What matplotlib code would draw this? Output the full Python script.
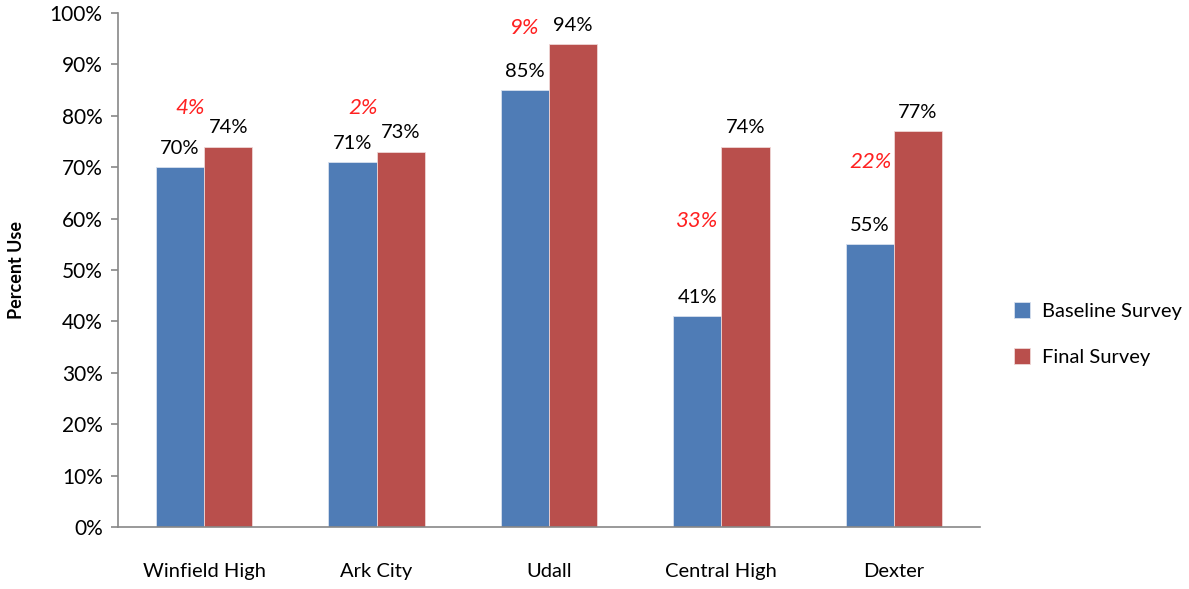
import matplotlib
matplotlib.use("Agg")
import matplotlib.pyplot as plt
import numpy as np

categories = ["Winfield High", "Ark City", "Udall", "Central High", "Dexter"]
baseline = [70, 71, 85, 41, 55]
final = [74, 73, 94, 74, 77]
series_names = ["Baseline Survey", "Final Survey"]
# y positions (in % units) where the red change labels sit
diff_label_y = [81.5, 81.5, 97.0, 59.5, 71.0]
diff_label_dx = [-0.08, -0.08, -0.14, -0.14, -0.135]

plt.rcParams['font.family'] = ['Lato', 'DejaVu Sans']

fig = plt.figure(figsize=(11.89, 5.89), dpi=100)
ax = fig.add_axes([118/1189, 1-527/589, (980-118)/1189, (527-13)/589])

blue = "#4F7CB6"
red = "#B94F4C"
w = 0.28
x = np.arange(len(categories))
ax.bar(x - w/2, baseline, w, color=blue, edgecolor="#d8e0ee", linewidth=0.6, label=series_names[0])
ax.bar(x + w/2, final, w, color=red, edgecolor="#efd6d6", linewidth=0.6, label=series_names[1])

for i in range(len(categories)):
    ax.text(x[i] - w/2, baseline[i] + 2.0, f"{baseline[i]}%", ha="center", va="bottom", fontsize=14.5)
    ax.text(x[i] + w/2, final[i] + 2.0, f"{final[i]}%", ha="center", va="bottom", fontsize=14.5)
    d = final[i] - baseline[i]
    ax.text(x[i] + diff_label_dx[i], diff_label_y[i], f"{d}%", ha="center", va="center",
            fontsize=16, color="#FF2020", style="italic")

ax.set_xlim(-0.5, len(categories) - 0.5)
ax.set_ylim(0, 100)
ax.set_yticks(np.arange(0, 101, 10))
ax.set_yticklabels([f"{v}%" for v in range(0, 101, 10)], fontsize=15)
ax.set_xticks(x)
ax.set_xticklabels(categories, fontsize=14.5)
ax.tick_params(axis="x", length=0, pad=26)
ax.tick_params(axis="y", length=5, color="#888888", width=1.2, pad=6)
for s in ["top", "right"]:
    ax.spines[s].set_visible(False)
for s in ["left", "bottom"]:
    ax.spines[s].set_color("#888888")
    ax.spines[s].set_linewidth(1.2)
ax.set_ylabel("Percent Use", fontsize=13, fontweight="bold", labelpad=18)

leg = fig.legend(loc="center left", bbox_to_anchor=(996/1189, 1-334/589), frameon=False,
                 fontsize=14.5, handlelength=0.8, handleheight=0.8, labelspacing=1.4, handletextpad=0.6)

fig.savefig("out.png", dpi=100)
